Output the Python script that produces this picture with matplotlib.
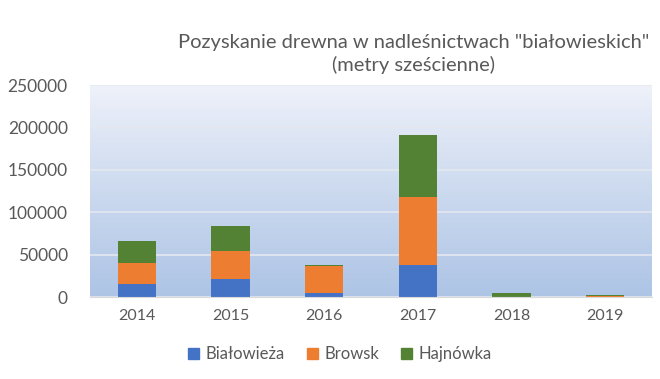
import numpy as np
import matplotlib.pyplot as plt
from matplotlib.patches import Patch

years = ['2014', '2015', '2016', '2017', '2018', '2019']
bialowieza = [15000, 21000, 4500, 37500, 0, 0]
browsk = [25000, 33000, 32500, 80000, 300, 1600]
hajnowka = [26000, 30000, 800, 73000, 4500, 1200]
series = ['Białowieża', 'Browsk', 'Hajnówka']
colors = ['#4472c4', '#ed7d31', '#548235']

plt.rcParams['font.family'] = ['Lato', 'DejaVu Sans']

fig = plt.figure(figsize=(6.6, 3.79), dpi=100)
ax = fig.add_axes([90 / 660, 1 - 297 / 379, 562 / 660, 212 / 379])

# gradient background of the plot area
grad = np.linspace(0, 1, 256).reshape(-1, 1)
top = np.array([0.94, 0.95, 0.98])
bot = np.array([0.68, 0.77, 0.90])
img = top + (bot - top) * grad[:, :, None] ** 0.9
ax.imshow(img, extent=[-0.5, 5.5, 0, 250000], aspect='auto', zorder=0,
          interpolation='bilinear')

x = np.arange(len(years))
w = 0.41
b1 = np.array(bialowieza)
b2 = b1 + np.array(browsk)
ax.bar(x, bialowieza, w, color=colors[0], zorder=3)
ax.bar(x, browsk, w, bottom=b1, color=colors[1], zorder=3)
ax.bar(x, hajnowka, w, bottom=b2, color=colors[2], zorder=3)

ax.set_xlim(-0.5, 5.5)
ax.set_ylim(0, 250000)
ax.set_yticks(range(0, 250001, 50000))
ax.set_xticks(x)
ax.set_xticklabels(years)
ax.yaxis.grid(True, color='#e4e8f0', linewidth=1.2, zorder=1)
ax.set_axisbelow(False)
for s in ['left', 'right', 'top']:
    ax.spines[s].set_visible(False)
ax.spines['bottom'].set_color('#d9d9d9')
ax.spines['bottom'].set_zorder(4)
ax.tick_params(length=0, labelcolor='#595959')
ax.tick_params(axis='x', labelsize=11.5, pad=9)
ax.tick_params(axis='y', labelsize=12.5, pad=16)

fig.text(0.627, 0.858, 'Pozyskanie drewna w nadleśnictwach "białowieskich"\n(metry sześcienne)',
         ha='center', va='center', fontsize=14.5, color='#595959', linespacing=1.3)

handles = [Patch(color=c, label=n) for c, n in zip(colors, series)]
fig.legend(handles=handles, loc='center', bbox_to_anchor=(0.515, 0.066), ncol=3,
           frameon=False, fontsize=12, labelcolor='#595959', handlelength=0.65,
           handleheight=0.65, handletextpad=0.4, columnspacing=1.3)

fig.savefig('out.png', dpi=100, facecolor='white')
